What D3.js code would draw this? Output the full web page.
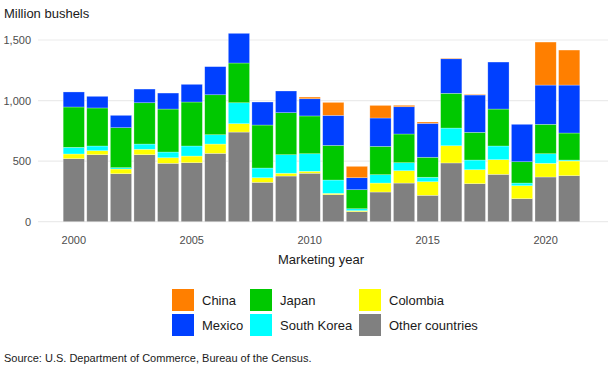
<!DOCTYPE html>
<html><head><meta charset="utf-8">
<script src="https://cdn.jsdelivr.net/npm/d3@7"></script>
<style>body{margin:0;background:#fff;}svg{display:block;font-family:"Liberation Sans",Arial,sans-serif;}</style>
</head><body><svg id="c" width="615" height="369"></svg>
<script>
const years = [2000,2001,2002,2003,2004,2005,2006,2007,2008,2009,2010,2011,2012,2013,2014,2015,2016,2017,2018,2019,2020,2021];
const other    = [520,553,396,553,482,487,564,740,325,377,400,223,83,245,319,218,485,314,391,190,369,380];
const colombia = [39,33,39,45,46,55,77,69,38,23,16,11,8,74,102,112,142,115,121,107,113,121];
const southKorea=[55,39,11,43,47,83,77,173,80,153,145,110,16,69,66,37,146,80,113,22,79,8];
const japan    = [333,314,330,341,355,363,330,328,355,347,312,286,157,234,237,165,287,229,305,176,243,223];
const mexico   = [124,96,102,113,132,146,232,245,190,179,142,248,99,234,225,280,285,308,388,309,324,396];
const china    = [0,0,0,0,0,0,0,0,0,0,14,107,94,104,12,11,5,5,0,0,355,289];
const yTicks = [0,500,1000,1500];
const xTicks = [2000,2005,2010,2015,2020];

const seriesNames = ["Other countries","Colombia","South Korea","Japan","Mexico","China"];
const seriesVals = [other,colombia,southKorea,japan,mexico,china];
const colors = {"China":"#FF7F00","Mexico":"#0040FF","Japan":"#00C800","South Korea":"#00FFFF","Colombia":"#FFFF00","Other countries":"#808080"};

const rows = years.map((y,i)=>{const r={year:y};seriesNames.forEach((n,k)=>r[n]=seriesVals[k][i]);return r;});
const stack = d3.stack().keys(seriesNames)(rows);

const svg = d3.select("#c");
const x = d3.scaleBand().domain(years).range([62,581]).paddingInner(0.1).paddingOuter(0.05);
const y = d3.scaleLinear().domain([0,1500]).range([221.7,40]);

// grid
svg.append("g").selectAll("line").data(yTicks).join("line")
  .attr("x1",38).attr("x2",608).attr("y1",d=>y(d)).attr("y2",d=>y(d))
  .attr("stroke","#ebebeb").attr("stroke-width",1.2);

const yAxis = d3.axisLeft(y).tickValues(yTicks).tickFormat(d3.format(",")).tickSize(0).tickPadding(0);
const gy = svg.append("g").attr("transform","translate(31,0)").call(yAxis);
gy.select(".domain").remove();
gy.selectAll("text").attr("fill","#4d4d4d").attr("font-size",11).attr("font-family","Liberation Sans, Arial, sans-serif");

const xAxis = d3.axisBottom(x).tickValues(xTicks).tickSize(0).tickPadding(0);
const gx = svg.append("g").attr("transform","translate(0,236)").call(xAxis);
gx.select(".domain").remove();
gx.selectAll("text").attr("fill","#4d4d4d").attr("font-size",11).attr("font-family","Liberation Sans, Arial, sans-serif");

// bars
svg.append("g").selectAll("g").data(stack).join("g")
  .attr("fill",d=>colors[d.key])
  .selectAll("rect").data(d=>d).join("rect")
  .attr("x",d=>x(d.data.year)).attr("width",x.bandwidth())
  .attr("y",d=>y(d[1])).attr("height",d=>Math.max(0,y(d[0])-y(d[1])))
  .attr("stroke","#ffffff").attr("stroke-opacity",0.45).attr("stroke-width",0.6);

svg.append("text").attr("x",4).attr("y",18).attr("font-size",13).attr("fill","#1a1a1a").text("Million bushels");
svg.append("text").attr("x",321).attr("y",264).attr("text-anchor","middle").attr("font-size",13).attr("fill","#1a1a1a").text("Marketing year");

// legend
const legendOrder = ["China","Mexico","Japan","South Korea","Colombia","Other countries"];
const colX = [172,250,359];
const rowY = [289,314];
const lg = svg.append("g");
legendOrder.forEach((n,i)=>{
  const c = Math.floor(i/2), r = i%2;
  lg.append("rect").attr("x",colX[c]).attr("y",rowY[r]).attr("width",22).attr("height",22).attr("fill",colors[n]);
  lg.append("text").attr("x",colX[c]+30).attr("y",rowY[r]+16).attr("font-size",13).attr("fill","#1a1a1a").text(n);
});

svg.append("text").attr("x",4).attr("y",362).attr("font-size",11).attr("fill","#1a1a1a").text("Source: U.S. Department of Commerce, Bureau of the Census.");
</script></body></html>
